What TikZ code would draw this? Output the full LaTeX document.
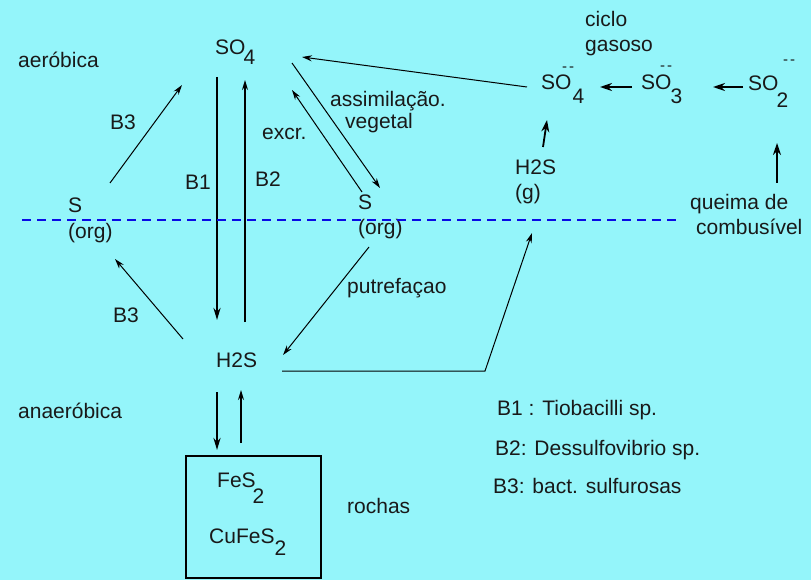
\documentclass[tikz,border=0pt]{standalone}
\usepackage{fontspec}
\setmainfont{Liberation Sans}
\usetikzlibrary{arrows.meta}
\definecolor{fundo}{RGB}{148,245,250}
\definecolor{tracejado}{RGB}{10,10,230}
\definecolor{escrita}{RGB}{25,25,25}
\newcommand{\ind}[3]{\kern#1\raisebox{-#2}{#3}}

\begin{document}
\begin{tikzpicture}[x=1pt,y=-1pt,
  txt/.style={anchor=base west,inner sep=0pt,text=escrita,font=\fontsize{21}{25}\selectfont},
  carga/.style={anchor=base west,inner sep=0pt,text=escrita,font=\fontsize{15}{15}\selectfont},
  seta/.style={-{Stealth[length=10pt,width=6pt]},line width=1pt},
  setaf/.style={-{Stealth[length=12pt,width=7pt]},line width=2.6pt},
  setam/.style={-{Stealth[length=12pt,width=8pt]},line width=1.8pt}]

\fill[fundo] (0,0) rectangle (811,580);
\useasboundingbox (0,0) rectangle (811,580);

\node[txt] (aer) at (18,68) {aeróbica};
\node[txt] (anaer) at (18,418) {anaeróbica};
\node[txt] (so4t) at (215,55) {SO\ind{-2pt}{10pt}{4}};
\node[txt] (so4) at (541,90) {SO\ind{1pt}{14pt}{4}};
\node[carga] (c4) at (562,72) {-\kern2pt-};
\node[txt] (so3) at (641,90) {SO\ind{-1pt}{14pt}{3}};
\node[carga] (c3) at (660,71) {-\kern2pt-};
\node[txt] (so2) at (748,91) {SO\ind{-2pt}{17pt}{2}};
\node[carga] (c2) at (783,65) {-\kern2pt-};
\node[txt] (ciclo) at (585,27) {ciclo};
\node[txt] (gas) at (585,52) {gasoso};
\node[txt] (h2sg) at (515,175) {H2S};
\node[txt] (g) at (515,200) {(g)};
\node[txt] (queima) at (690,210) {queima de};
\node[txt] (comb) at (696,235) {combusível};
\node[txt] (sl) at (68,213) {S};
\node[txt] (orgl) at (68,238) {(org)};
\node[txt] (sr) at (358,210) {S};
\node[txt] (orgr) at (358,235) {(org)};
\node[txt] (b3a) at (110,130) {B3};
\node[txt] (b1) at (185,190) {B1};
\node[txt] (b2) at (255,187) {B2};
\node[txt] (excr) at (262,140) {excr.};
\node[txt] (assim) at (330,107) {assimilação.};
\node[txt] (veg) at (345,129) {vegetal};
\node[txt] (putr) at (347,293) {putrefaçao};
\node[txt] (b3b) at (113,322) {B3};
\node[txt] (h2s) at (216,367) {H2S};
\node[txt] (fes) at (217,487) {FeS\ind{-3pt}{16pt}{2}};
\node[txt] (cufes) at (209,543) {CuFeS\ind{0pt}{12pt}{2}};
\node[txt] (rochas) at (347,513) {rochas};
\node[txt] (leg1) at (497,415) {B1 : Tiobacilli sp.};
\node[txt] (leg2) at (495,455) {B2: Dessulfovibrio sp.};
\node[txt] (leg3) at (493,493) {B3: bact. sulfurosas};

\coordinate (so4-w) at (527,87);
\coordinate (so4t-e) at (302,57);
\coordinate (so3-w) at (632,87);
\coordinate (so4-e) at (600,87);
\coordinate (so2-w) at (743,87);
\coordinate (so3-e) at (713,87);
\coordinate (h2sg-n) at (543,147);
\coordinate (so4-s) at (547,120);
\coordinate (queima-n) at (777,183);
\coordinate (so2-s) at (777,143);
\coordinate (sl-n) at (110,183);
\coordinate (so4t-sw) at (182,85);
\coordinate (so4t-s1) at (217,77);
\coordinate (h2s-n1) at (217,320);
\coordinate (h2s-n2) at (245,322);
\coordinate (so4t-s2) at (245,80);
\coordinate (sr-n) at (362,192);
\coordinate (so4t-se) at (292,90);
\coordinate (so4t-e2) at (292,63);
\coordinate (sr-n2) at (380,188);
\coordinate (orgr-s) at (369,247);
\coordinate (h2s-ne) at (283,355);
\coordinate (h2s-nw) at (183,339);
\coordinate (orgl-s) at (115,259);
\coordinate (h2s-e) at (282,371);
\coordinate (quebra) at (485,371);
\coordinate (h2sg-s) at (532,233);
\coordinate (h2s-s1) at (217,392);
\coordinate (rocha-n1) at (217,450);
\coordinate (rocha-n2) at (241,443);
\coordinate (h2s-s2) at (241,390);

\draw[seta] (so4-w)--(so4t-e);
\draw[setam] (so3-w)--(so4-e);
\draw[setam] (so2-w)--(so3-e);
\draw[setam] (h2sg-n)--(so4-s);
\draw[setam] (queima-n)--(so2-s);

\draw[seta] (sl-n)--(so4t-sw);
\draw[setaf] (so4t-s1)--(h2s-n1);
\draw[seta,line width=1.3pt] (h2s-n2)--(so4t-s2);
\draw[seta] (sr-n)--(so4t-se);
\draw[seta] (so4t-e2)--(sr-n2);
\draw[seta] (orgr-s)--(h2s-ne);
\draw[seta] (h2s-nw)--(orgl-s);
\draw[seta] (h2s-e)--(quebra)--(h2sg-s);

\draw[setaf] (h2s-s1)--(rocha-n1);
\draw[seta,line width=1.3pt] (rocha-n2)--(h2s-s2);

\draw[line width=1.3pt] (186,456) rectangle (321,578);

\draw[tracejado,line width=1.3pt,dash pattern=on 9pt off 6pt] (22,220)--(678,220);

\end{tikzpicture}
\end{document}
